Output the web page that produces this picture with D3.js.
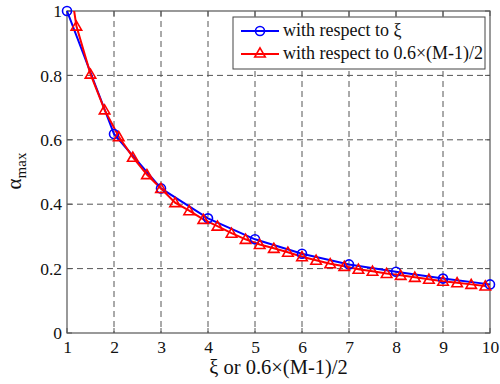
<!DOCTYPE html>
<html><head><meta charset="utf-8">
<script src="https://cdn.jsdelivr.net/npm/d3@7"></script>
<style>body{margin:0;background:#fff}svg{display:block}</style>
</head><body><svg id="c" width="500" height="384"></svg>
<script>
const xTicks=[1,2,3,4,5,6,7,8,9,10];
const yTicks=[0,0.2,0.4,0.6,0.8,1];
const blueX=[1,2,3,4,5,6,7,8,9,10];
const blueY=[1.0,0.618,0.449,0.356,0.291,0.246,0.213,0.190,0.169,0.151];
const redX=[0.9,1.2,1.5,1.8,2.1,2.4,2.7,3.0,3.3,3.6,3.9,4.2,4.5,4.8,5.1,5.4,5.7,6.0,6.3,6.6,6.9,7.2,7.5,7.8,8.1,8.4,8.7,9.0,9.3,9.6,9.9];
const redY=[1.25,0.953,0.804,0.693,0.610,0.546,0.492,0.449,0.405,0.380,0.353,0.332,0.310,0.291,0.275,0.263,0.251,0.237,0.226,0.215,0.207,0.198,0.192,0.185,0.179,0.173,0.167,0.161,0.156,0.151,0.146];
const legendLabels=["with respect to \u03be","with respect to 0.6\u00d7(M-1)/2"];

const svg=d3.select("#c");
const L=67,R=490,T=11,B=333;
const x=d3.scaleLinear().domain([1,10]).range([L,R]);
const y=d3.scaleLinear().domain([0,1]).range([B,T]);
const font="'Liberation Serif','Times New Roman',serif";

// grid
const g=svg.append("g");
g.selectAll(".gx").data(xTicks.slice(1,-1)).join("line")
 .attr("x1",d=>x(d)).attr("x2",d=>x(d)).attr("y1",T).attr("y2",B)
 .attr("stroke","#555").attr("stroke-dasharray","6,4").attr("stroke-width",1);
g.selectAll(".gy").data(yTicks.slice(1,-1)).join("line")
 .attr("y1",d=>y(d)).attr("y2",d=>y(d)).attr("x1",L).attr("x2",R)
 .attr("stroke","#555").attr("stroke-dasharray","6,4").attr("stroke-width",1);

// axes
const ax=svg.append("g").attr("transform",`translate(0,${B})`).call(d3.axisBottom(x).tickValues(xTicks).tickSize(0).tickPadding(8));
const ay=svg.append("g").attr("transform",`translate(${L},0)`).call(d3.axisLeft(y).tickValues(yTicks).tickSize(0).tickPadding(5).tickFormat(d=>d===0||d===1?d3.format("d")(d):d3.format(".1f")(d)));
[ax,ay].forEach(a=>{a.attr("font-family",font).attr("font-size",17);a.select(".domain").remove();a.selectAll("text").attr("font-family",font).attr("font-size",17.5).attr("fill","#111");});

// inner ticks
const tk=svg.append("g").attr("stroke","#555").attr("stroke-width",1);
xTicks.forEach(d=>{tk.append("line").attr("x1",x(d)).attr("x2",x(d)).attr("y1",B).attr("y2",B-5);
 tk.append("line").attr("x1",x(d)).attr("x2",x(d)).attr("y1",T).attr("y2",T+5);});
yTicks.forEach(d=>{tk.append("line").attr("y1",y(d)).attr("y2",y(d)).attr("x1",L).attr("x2",L+5);
 tk.append("line").attr("y1",y(d)).attr("y2",y(d)).attr("x1",R).attr("x2",R-5);});

svg.append("rect").attr("x",L).attr("y",T).attr("width",R-L).attr("height",B-T).attr("fill","none").attr("stroke","#555").attr("stroke-width",1.2);

// clip
svg.append("clipPath").attr("id","clp").append("rect").attr("x",L-6).attr("y",T).attr("width",R-L+12).attr("height",B-T+6);
const plot=svg.append("g").attr("clip-path","url(#clp)");
const line=d3.line().x(d=>x(d[0])).y(d=>y(d[1]));
const bd=blueX.map((v,i)=>[v,blueY[i]]);
const rd=redX.map((v,i)=>[v,redY[i]]);
const tri=d3.symbol().type(d3.symbolTriangle).size(48);

plot.append("path").attr("d",line(bd)).attr("fill","none").attr("stroke","#0000ff").attr("stroke-width",2);
plot.append("path").attr("d",line(rd)).attr("fill","none").attr("stroke","#ff0000").attr("stroke-width",2);
const pts=svg.append("g");
pts.selectAll(".b").data(bd).join("circle").attr("cx",d=>x(d[0])).attr("cy",d=>y(d[1])).attr("r",4.5)
 .attr("fill","none").attr("stroke","#0000ff").attr("stroke-width",1.6);
pts.selectAll(".r").data(rd.filter(d=>d[1]<=1&&d[0]>=1)).join("path").attr("d",tri)
 .attr("transform",d=>`translate(${x(d[0])},${y(d[1])+1})`)
 .attr("fill","none").attr("stroke","#ff0000").attr("stroke-width",1.6);

// legend
const lg=svg.append("g");
lg.append("rect").attr("x",233).attr("y",17).attr("width",252).attr("height",52).attr("fill","#fff").attr("stroke","#444").attr("stroke-width",1);
const ly=[31,54];
lg.append("line").attr("x1",241).attr("x2",279).attr("y1",ly[0]).attr("y2",ly[0]).attr("stroke","#0000ff").attr("stroke-width",2);
lg.append("circle").attr("cx",260).attr("cy",ly[0]).attr("r",4.5).attr("fill","none").attr("stroke","#0000ff").attr("stroke-width",1.6);
lg.append("line").attr("x1",241).attr("x2",279).attr("y1",ly[1]).attr("y2",ly[1]).attr("stroke","#ff0000").attr("stroke-width",2);
lg.append("path").attr("d",tri).attr("transform",`translate(260,${ly[1]})`).attr("fill","none").attr("stroke","#ff0000").attr("stroke-width",1.6);
legendLabels.forEach((t,i)=>lg.append("text").attr("x",283).attr("y",ly[i]+5).attr("font-family",font).attr("font-size",18).attr("fill","#111").text(t));

// axis labels
svg.append("text").attr("x",x(5.5)).attr("y",374).attr("text-anchor","middle").attr("font-family",font).attr("font-size",20.5).attr("fill","#111").text("\u03be or 0.6\u00d7(M-1)/2");
const yl=svg.append("text").attr("transform","translate(21,171) rotate(-90)").attr("text-anchor","middle").attr("font-family",font).attr("font-size",21).attr("fill","#111");
yl.append("tspan").text("\u03b1");
yl.append("tspan").attr("font-size",15).attr("dy",5).text("max");
</script></body></html>
